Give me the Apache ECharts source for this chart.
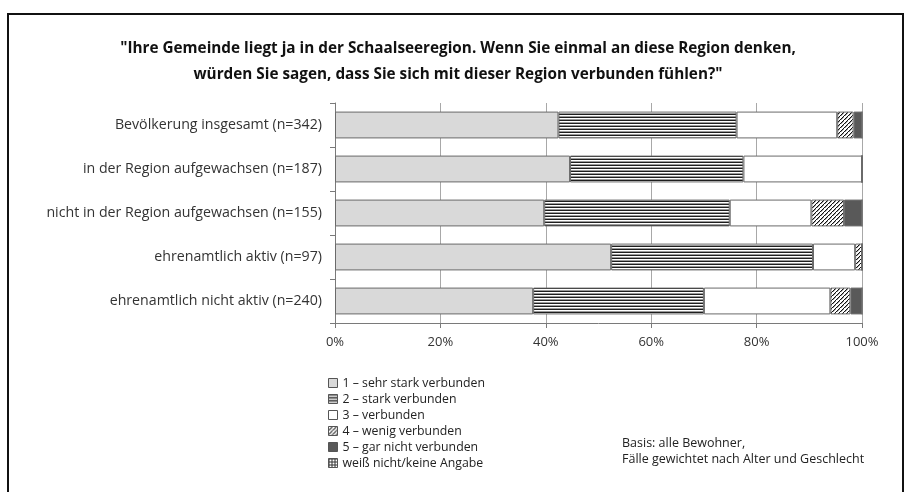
<!DOCTYPE html>
<html>
<head>
<meta charset="utf-8">
<script src="https://cdn.jsdelivr.net/npm/echarts@6/dist/echarts.min.js"></script>
<style>
	html, body { margin: 0; padding: 0; background: #fff; }
	#chart { width: 907px; height: 492px; }
</style>
</head>
<body>
<div id="chart"></div>
<script>
// categories (top to bottom)
var categories = [
	'Bevölkerung insgesamt (n=342)',
	'in der Region aufgewachsen (n=187)',
	'nicht in der Region aufgewachsen (n=155)',
	'ehrenamtlich aktiv (n=97)',
	'ehrenamtlich nicht aktiv (n=240)'
];
var seriesNames = [
	'1 – sehr stark verbunden',
	'2 – stark verbunden',
	'3 – verbunden',
	'4 – wenig verbunden',
	'5 – gar nicht verbunden',
	'weiß nicht/keine Angabe'
];
// percentages per category
var sehrStark   = [42.4, 44.6, 39.7, 52.4, 37.6];
var stark       = [33.8, 32.9, 35.2, 38.3, 32.4];
var verbunden   = [19.1, 22.5, 15.5, 8.0, 24.0];
var wenig       = [3.1, 0, 6.2, 1.3, 3.8];
var garNicht    = [1.6, 0, 3.4, 0, 2.2];
var weissNicht  = [0, 0, 0, 0, 0];
var xTicks = [0, 20, 40, 60, 80, 100];

/* patterns */
function makePattern(w, h, draw) {
	var c = document.createElement('canvas');
	c.width = w; c.height = h;
	var ctx = c.getContext('2d');
	ctx.fillStyle = '#fff';
	ctx.fillRect(0, 0, w, h);
	draw(ctx);
	return { image: c, repeat: 'repeat' };
}
var stripePattern = makePattern(4, 3, function(ctx) {
	ctx.fillStyle = '#1e1e1e'; ctx.fillRect(0, 0, 4, 1);
	ctx.fillStyle = '#9a9a9a'; ctx.fillRect(0, 2, 4, 1);
});
var hatchPattern = makePattern(4, 4, function(ctx) {
	ctx.fillStyle = '#111';
	for (var i = 0; i < 4; i++) {
		ctx.fillRect(3 - i, i, 1.4, 1);
	}
});
var gridPattern = makePattern(3, 3, function(ctx) {
	ctx.fillStyle = '#333';
	ctx.fillRect(0, 0, 3, 1);
	ctx.fillRect(0, 0, 1, 3);
});

var fills = ['#d9d9d9', stripePattern, '#ffffff', hatchPattern, '#595959', gridPattern];
var dataSets = [sehrStark, stark, verbunden, wenig, garNicht, weissNicht];

var font = '"Open Sans", Lato, sans-serif';

var series = dataSets.map(function(d, i) {
	return {
		name: seriesNames[i],
		type: 'bar',
		stack: 'total',
		barWidth: '61%',
		silent: true,
		itemStyle: {
			color: fills[i],
			borderColor: '#6a6a6a',
			borderWidth: 1
		},
		data: d
	};
});

var chart = echarts.init(document.getElementById('chart'));
var option = {
	animation: false,
	backgroundColor: '#fff',
	textStyle: { fontFamily: font },
	title: {
		text: '"Ihre Gemeinde liegt ja in der Schaalseeregion. Wenn Sie einmal an diese Region denken,\nwürden Sie sagen, dass Sie sich mit dieser Region verbunden fühlen?"',
		left: 453,
		textAlign: 'center',
		top: 31,
		textStyle: {
			fontFamily: font,
			fontSize: 15.3,
			fontWeight: 'bold',
			color: '#111',
			lineHeight: 26
		}
	},
	grid: {
		left: 335,
		right: 45,
		top: 103,
		bottom: 169,
		containLabel: false
	},
	legend: {
		orient: 'vertical',
		left: 323,
		top: 372,
		itemWidth: 9,
		itemHeight: 9,
		itemGap: 4,
		icon: 'rect',
		selectedMode: false,
		data: seriesNames,
		itemStyle: { borderColor: '#555', borderWidth: 1 },
		textStyle: {
			fontFamily: font,
			fontSize: 12.3,
			lineHeight: 12,
			color: '#222'
		}
	},
	xAxis: {
		type: 'value',
		min: xTicks[0],
		max: xTicks[xTicks.length - 1],
		interval: 20,
		axisLine: { show: true, lineStyle: { color: '#7a7a7a' } },
		axisTick: { show: true, length: 5, lineStyle: { color: '#7a7a7a' } },
		splitLine: { show: true, lineStyle: { color: '#a8a8a8', width: 1 } },
		axisLabel: {
			formatter: '{value}%',
			fontFamily: font,
			fontSize: 13,
			color: '#333',
			margin: 13
		}
	},
	yAxis: {
		type: 'category',
		inverse: true,
		data: categories,
		axisLine: { show: true, lineStyle: { color: '#7a7a7a' } },
		axisTick: { show: true, length: 5, lineStyle: { color: '#7a7a7a' } },
		axisLabel: {
			fontFamily: font,
			fontSize: 14.2,
			color: '#333',
			margin: 13
		}
	},
	graphic: [
		{
			type: 'rect',
			shape: { x: 8, y: 14, width: 895, height: 500 },
			style: { fill: 'none', stroke: '#111', lineWidth: 2 },
			silent: true
		},
		{
			type: 'text',
			left: 622,
			top: 435,
			style: {
				text: 'Basis: alle Bewohner,\nFälle gewichtet nach Alter und Geschlecht',
				font: '12.5px ' + font,
				lineHeight: 16,
				fill: '#222'
			}
		}
	],
	series: series
};
chart.setOption(option);
</script>
</body>
</html>
